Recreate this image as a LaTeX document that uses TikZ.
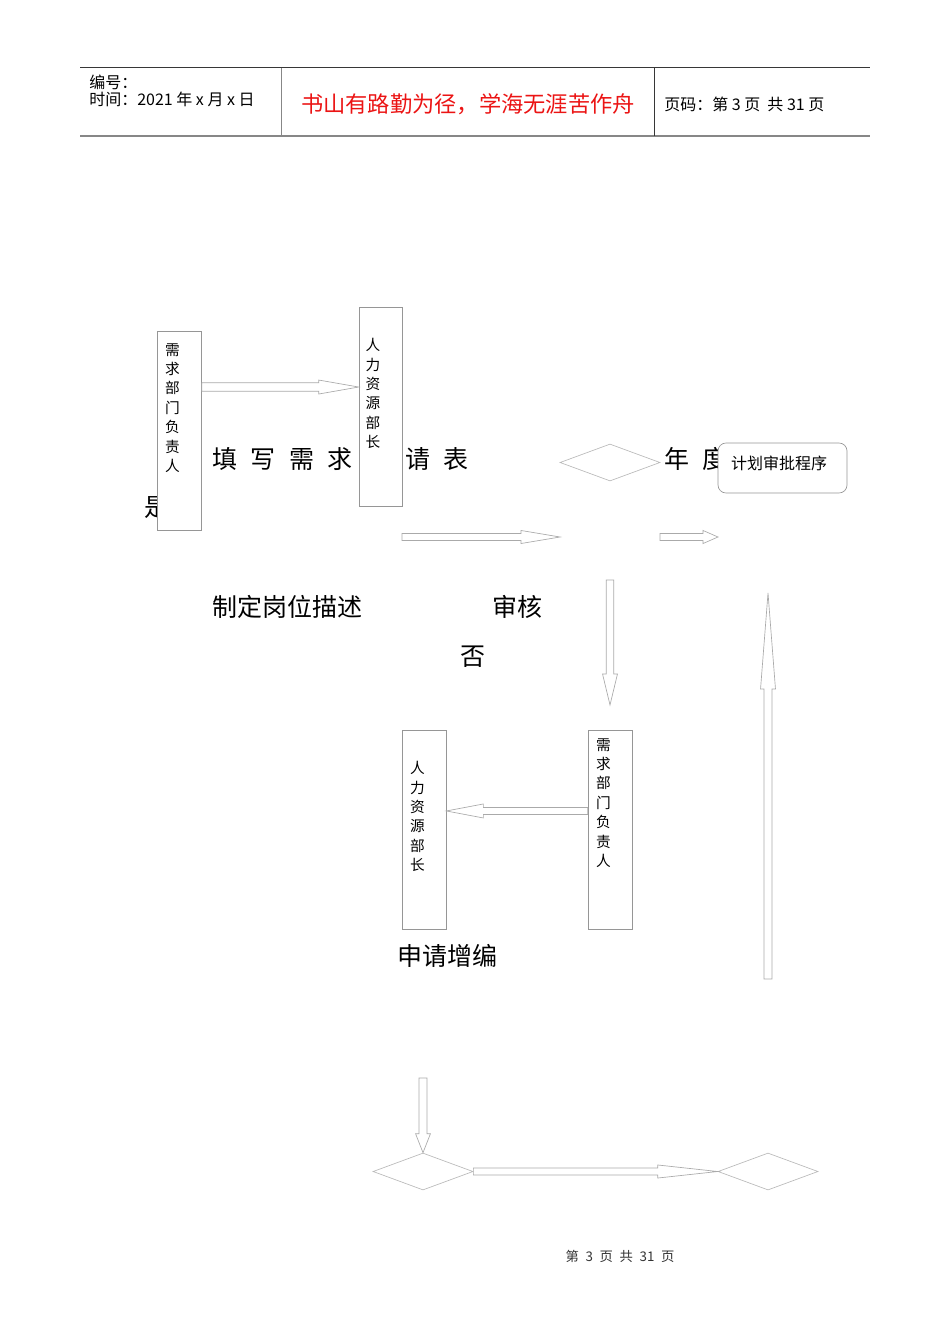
\documentclass[tikz,border=0pt]{standalone}
\usepackage{fontspec}
\setmainfont{Noto Sans CJK SC}
\usetikzlibrary{shapes.geometric,calc}

\definecolor{boxgray}{RGB}{150,150,150}
\definecolor{arrowgray}{RGB}{170,170,170}
\definecolor{diagray}{RGB}{185,185,185}
\definecolor{headline}{RGB}{55,55,55}
\definecolor{headrule}{RGB}{135,135,135}
\definecolor{redtitle}{RGB}{235,20,20}

\newcommand{\gap}{\hspace{10.1pt}}
\newcommand{\fgap}{\hspace{0.5em}}

\tikzset{
  fat shaft/.store in=\fatshaft, fat shaft=2.6pt,
  fat head/.store in=\fathead, fat head=5pt,
  fat len/.store in=\fatlen, fat len=28pt,
}
\tikzstyle{fatarrow}=[draw=arrowgray, line width=0.5pt, fill=white,
  to path={let \p1=(\tikztostart), \p2=(\tikztotarget),
    \n1={atan2(\y2-\y1,\x2-\x1)},
    \n2={veclen(\x2-\x1,\y2-\y1)-\fatlen} in
    ($(\p1)+({\n1+90}:\fatshaft)$)
    -- ($(\p1)+(\n1:\n2)+({\n1+90}:\fatshaft)$)
    -- ($(\p1)+(\n1:\n2)+({\n1+90}:\fathead)$)
    -- (\p2)
    -- ($(\p1)+(\n1:\n2)+({\n1-90}:\fathead)$)
    -- ($(\p1)+(\n1:\n2)+({\n1-90}:\fatshaft)$)
    -- ($(\p1)+({\n1-90}:\fatshaft)$)
    -- cycle}]
\tikzstyle{vbox}=[shape=rectangle, draw=boxgray, fill=white, line width=0.5pt,
  minimum width=33pt, minimum height=149.25pt, inner sep=0pt]
\tikzstyle{vtext}=[align=center, inner sep=0pt, anchor=north,
  font=\fontsize{11pt}{14.6pt}\selectfont]
\tikzstyle{bigtext}=[inner sep=0pt, font=\fontsize{18.75pt}{20pt}\selectfont]
\tikzstyle{choice}=[shape=diamond, draw=diagray, line width=0.5pt,
  minimum width=75pt, minimum height=27.75pt, inner sep=0pt]
\tikzstyle{planbox}=[shape=rectangle, rounded corners=6pt, draw=boxgray, fill=white,
  line width=0.5pt, minimum width=96.75pt, minimum height=37.5pt]
\tikzstyle{headtext}=[inner sep=0pt, anchor=west, font=\fontsize{12pt}{13pt}\selectfont]

\begin{document}
\begin{tikzpicture}[x=0.75pt, y=-0.75pt]
\useasboundingbox (0,0) rectangle (950,1344);

% header table
\draw[headline, line width=0.75pt] (80,68) -- (870,68);
\draw[headrule, line width=1.5pt] (80,136) -- (870,136);
\draw[headrule, line width=0.75pt] (281,68) -- (281,136);
\draw[headline, line width=0.75pt] (654,68) -- (654,136);
\node[headtext] (number) at (89,82) {编号：};
\node[headtext] (date) at (89,99) {时间：2021 年 x 月 x 日};
\node[inner sep=0pt, text=redtitle, font=\fontsize{16.7pt}{18pt}\selectfont]
  (motto) at (468,104) {书山有路勤为径，学海无涯苦作舟};
\node[headtext] (pageno) at (664,104) {页码：第 3 页 \ 共 31 页};

% texts that the boxes cover
\node[bigtext] (shi) at (157,508) {是};
\node[bigtext, anchor=west] (niandu) at (664,459) {年\gap 度};

% boxes
\node[vbox] (dept1) at (179.5,430.5) {};
\node[vtext] (dept1txt) at (172.5,343) {需\\求\\部\\门\\负\\责\\人};
\node[vbox, minimum width=32.25pt] (hr1) at (380.5,406.5) {};
\node[vtext] (hr1txt) at (373,338) {人\\力\\资\\源\\部\\长};
\node[vbox] (hr2) at (424,829.5) {};
\node[vtext] (hr2txt) at (417.5,761) {人\\力\\资\\源\\部\\长};
\node[vbox] (dept2) at (610,829.5) {};
\node[vtext] (dept2txt) at (603.5,738) {需\\求\\部\\门\\负\\责\\人};

\node[choice] (check1) at (610,462.5) {};
\node[choice] (check2) at (423,1171.5) {};
\node[choice] (check3) at (768,1171.5) {};
\node[planbox] (plan) at (782.5,468) {};
\node[inner sep=0pt, font=\fontsize{12pt}{14pt}\selectfont] (plantxt) at (779,463) {计划审批程序};

% loose texts
\node[bigtext, anchor=west] (fillin) at (212,459) {填\gap 写\gap 需\gap 求};
\node[bigtext, anchor=west] (form) at (405,459) {请\gap 表};
\node[bigtext] (describe) at (287.5,607) {制定岗位描述};
\node[bigtext] (review) at (517,607) {审核};
\node[bigtext] (no) at (473,657) {否};
\node[bigtext] (apply) at (447,956) {申请增编};

% loose arrow ends
\coordinate (a2s) at (402,537);
\coordinate (a2e) at (560,537);
\coordinate (a3s) at (660,537);
\coordinate (a3e) at (718,537);
\coordinate (a4s) at (610,580);
\coordinate (a4e) at (610,705);
\coordinate (a6s) at (768,979);
\coordinate (a6e) at (768,593);
\coordinate (a7s) at (423,1078);

% arrows
\draw[fatarrow, fat shaft=3.2pt, fat head=5.25pt, fat len=30pt]
  ([yshift=32.6pt]dept1.east) to ([yshift=14.6pt]hr1.west);
\draw[fatarrow, fat head=4.9pt, fat len=29.3pt] (a2s) to (a2e);
\draw[fatarrow, fat head=4.9pt, fat len=11.25pt] (a3s) to (a3e);
\draw[fatarrow, fat shaft=2.8pt, fat head=5.6pt, fat len=23.25pt] (a4s) to (a4e);
\draw[fatarrow, fat head=5.25pt, fat len=27.75pt]
  ([yshift=13.9pt]dept2.west) to ([yshift=13.9pt]hr2.east);
\draw[fatarrow, fat shaft=3pt, fat head=5.6pt, fat len=72pt] (a6s) to (a6e);
\draw[fatarrow, fat shaft=3pt, fat head=5.6pt, fat len=14.25pt] (a7s) to (check2.north);
\draw[fatarrow, fat head=4.9pt, fat len=45pt] (check2.east) to (check3.west);

% footer
\node[inner sep=0pt, text=black!80, font=\fontsize{10pt}{12pt}\selectfont]
  (footer) at (620,1256) {第\fgap 3\fgap 页\fgap 共\fgap 31\fgap 页};
\end{tikzpicture}
\end{document}
